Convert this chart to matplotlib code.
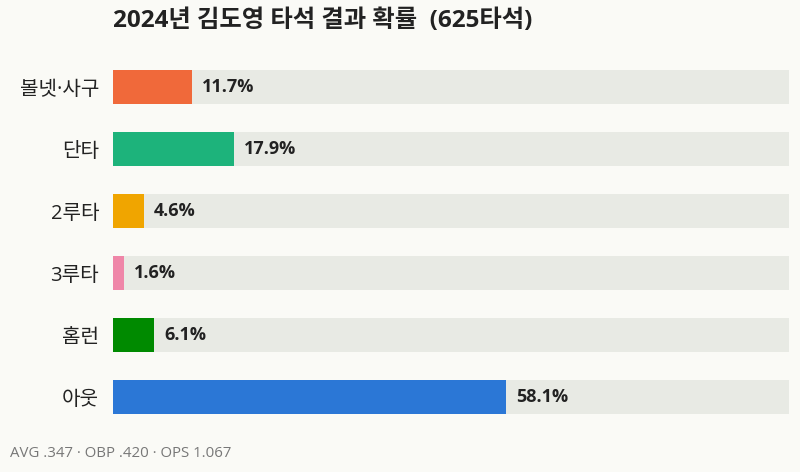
import matplotlib.pyplot as plt

plt.rcParams['font.family'] = ['Open Sans', 'Noto Sans CJK KR', 'DejaVu Sans']

# Data
categories = ['볼넷·사구', '단타', '2루타', '3루타', '홈런', '아웃']
pcts = [11.7, 17.9, 4.6, 1.6, 6.1, 58.1]
colors = ['#f0693a', '#1db37b', '#f0a500', '#ef86a8', '#008a00', '#2b77d6']
title = '2024년 김도영 타석 결과 확률  (625타석)'
footer = 'AVG .347 · OBP .420 · OPS 1.067'

bg = '#fafaf6'
fig = plt.figure(figsize=(8, 4.72), dpi=100, facecolor=bg)
ax = fig.add_axes([0.14125, 0.093, 0.845, 0.788])
ax.set_facecolor(bg)

ypos = list(range(len(categories)))
ax.barh(ypos, [100] * len(categories), height=0.55, color='#e8eae4', zorder=1)
ax.barh(ypos, pcts, height=0.55, color=colors, zorder=2)

for y, v in zip(ypos, pcts):
    ax.text(v + 1.5, y, f'{v}%', va='center', ha='left', fontsize=13,
            fontweight='bold', color='#222222', zorder=3)

ax.set_xlim(0, 100)
ax.set_ylim(len(categories) - 0.5, -0.5)
ax.set_yticks(ypos)
ax.set_yticklabels(categories, fontsize=14.5, color='#222222')
ax.set_xticks([])
ax.tick_params(axis='y', length=0, pad=10)
for s in ax.spines.values():
    s.set_visible(False)

fig.text(0.14125, 0.955, title, fontsize=17.5, fontweight='bold',
         color='#222222', ha='left', va='center')
fig.text(0.012, 0.04, footer, fontsize=10.8, color='#777777',
         ha='left', va='center')

fig.savefig('out.png', dpi=100, facecolor=bg)
